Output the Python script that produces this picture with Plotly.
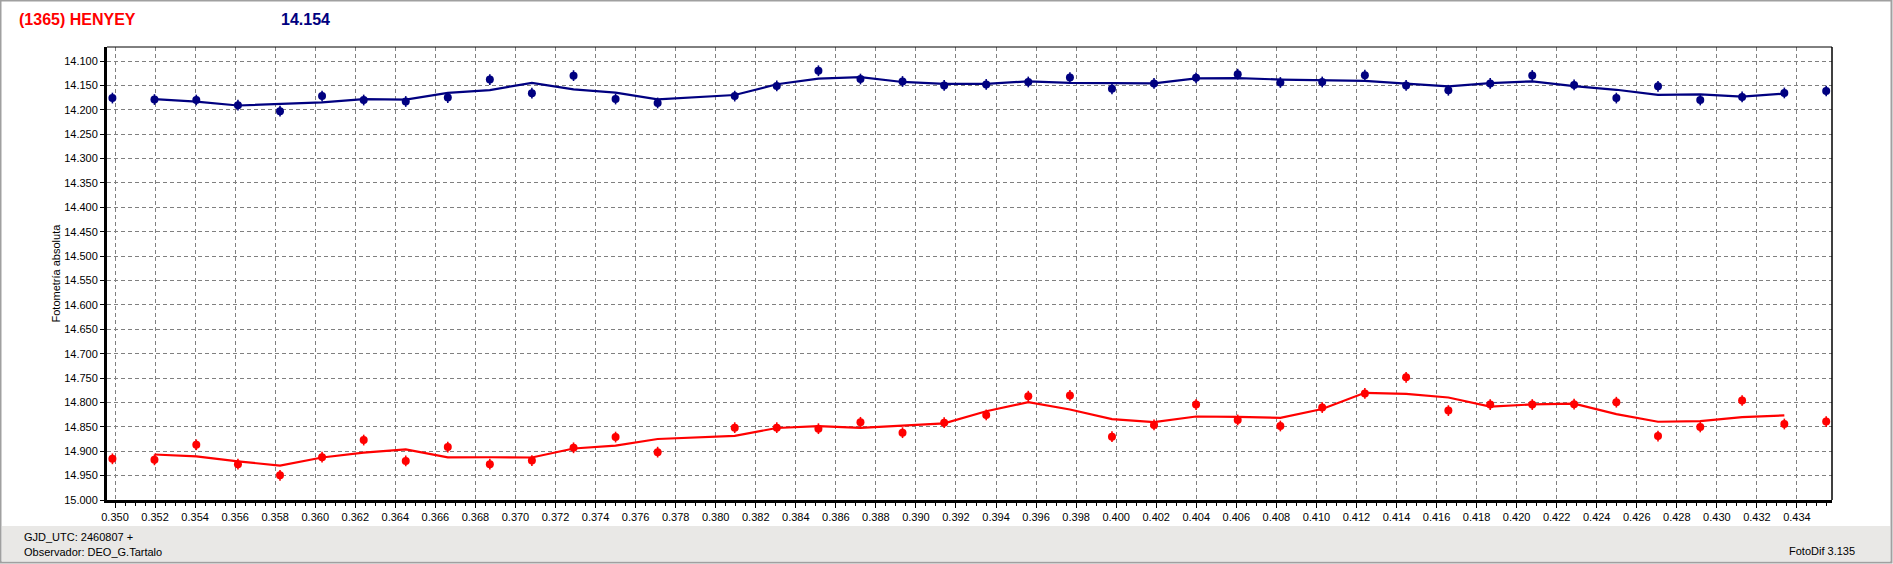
import plotly.graph_objects as go

# ---- data ----
x_jd = [0.34987, 0.35197, 0.35406, 0.35614, 0.35824, 0.36034, 0.36242, 0.36452, 0.36662, 0.36872,
        0.37082, 0.37290, 0.37500, 0.37710, 0.38095, 0.38305, 0.38513, 0.38723, 0.38933, 0.39141,
        0.39351, 0.39561, 0.39769, 0.39979, 0.40189, 0.40399, 0.40607, 0.40820, 0.41029, 0.41242,
        0.41448, 0.41659, 0.41868, 0.42078, 0.42287, 0.42498, 0.42706, 0.42917, 0.43126, 0.43337,
        0.43546]

blue_mag = [14.176, 14.179, 14.180, 14.1905, 14.203, 14.172, 14.180, 14.183, 14.175, 14.138,
            14.166, 14.130, 14.178, 14.186, 14.172, 14.151, 14.120, 14.137, 14.142, 14.150,
            14.148, 14.143, 14.134, 14.157, 14.146, 14.1345, 14.127, 14.144, 14.143, 14.129,
            14.150, 14.160, 14.146, 14.1297, 14.149, 14.176, 14.152, 14.180, 14.1736, 14.1655,
            14.1615]

red_mag = [14.9156, 14.9177, 14.8868, 14.9266, 14.9493, 14.9122, 14.8771, 14.9198, 14.8916, 14.9266,
           14.9191, 14.8930, 14.8710, 14.9019, 14.8517, 14.8517, 14.8538, 14.8407, 14.8620, 14.8414,
           14.8256, 14.7871, 14.7857, 14.8703, 14.8462, 14.8043, 14.8359, 14.8483, 14.8105, 14.7816,
           14.7486, 14.8167, 14.8043, 14.8043, 14.8036, 14.7995, 14.8689, 14.8503, 14.7960, 14.8442,
           14.8393]

# smoothed curves (drawn from 2nd to 2nd-last point)
blue_trend = [14.1783, 14.1832, 14.1912, 14.1885, 14.1850, 14.1783, 14.1793, 14.1653, 14.1597, 14.1447,
              14.1580, 14.1647, 14.1787, 14.1697, 14.1477, 14.1360, 14.1330, 14.1430, 14.1467, 14.1470,
              14.1417, 14.1447, 14.1457, 14.1458, 14.1358, 14.1352, 14.1380, 14.1387, 14.1407, 14.1463,
              14.1520, 14.1452, 14.1416, 14.1516, 14.1590, 14.1693, 14.1685, 14.1730, 14.1669]

red_trend = [14.9067, 14.9104, 14.9209, 14.9294, 14.9129, 14.9030, 14.8962, 14.9127, 14.9124, 14.9129,
             14.8944, 14.8886, 14.8749, 14.8684, 14.8524, 14.8487, 14.8522, 14.8480, 14.8430, 14.8180,
             14.7995, 14.8144, 14.8341, 14.8403, 14.8288, 14.8295, 14.8316, 14.8135, 14.7802, 14.7823,
             14.7899, 14.8084, 14.8041, 14.8025, 14.8240, 14.8396, 14.8384, 14.8302, 14.8265]

err_mag = 0.011

title_name = "(1365) HENYEY"
title_value = "14.154"
y_title = "Fotometría absoluta"
status_1 = "GJD_UTC: 2460807 +"
status_2 = "Observador: DEO_G.Tartalo"
status_3 = "FotoDif 3.135"

# ---- layout geometry (pixels) ----
W, H = 1893, 564
L, R, T, B = 107, 1832, 47, 500
PW, PH = R - L, B - T


def px(xp):
    return (xp - L) / PW


def py(yp):
    return (B - yp) / PH


NAVY = "#000080"
RED = "#FF0000"
FONT = "Liberation Sans, Arial, sans-serif"

fig = go.Figure()

for mags, trend, col in [(blue_mag, blue_trend, NAVY), (red_mag, red_trend, RED)]:
    fig.add_trace(go.Scatter(
        x=x_jd[1:-1], y=trend, mode="lines",
        line=dict(color=col, width=2.2), hoverinfo="skip", showlegend=False))
    fig.add_trace(go.Scatter(
        x=x_jd, y=mags, mode="markers",
        marker=dict(color=col, size=8, symbol="circle", line=dict(width=0)),
        error_y=dict(type="constant", value=err_mag, color=col, thickness=1.6, width=0),
        showlegend=False))

grid = dict(showgrid=True, gridcolor="#808080", gridwidth=1, griddash="4px,3px")

fig.update_xaxes(
    range=[0.3496, 0.43575], tick0=0.35, dtick=0.002, tickformat=".3f",
    showline=True, linecolor="black", linewidth=3, mirror=False,
    ticks="outside", ticklen=5, tickcolor="black", tickwidth=1,
    minor=dict(ticks="outside", ticklen=3, dtick=0.0005, tick0=0.35, tickcolor="black", showgrid=False),
    tickfont=dict(family=FONT, size=11, color="black"),
    zeroline=False, **grid)

fig.update_yaxes(
    range=[15.0, 14.0713], tick0=14.1, dtick=0.05, tickformat=".3f",
    showline=True, linecolor="black", linewidth=3, mirror=False,
    ticks="outside", ticklen=4, tickcolor="black", tickwidth=1,
    tickfont=dict(family=FONT, size=11, color="black"),
    zeroline=False, **grid)

shapes = [
    # outer window frame
    dict(type="rect", xref="paper", yref="paper", x0=px(0.5), x1=px(W - 1.5), y0=py(H - 1.5), y1=py(0.5),
         line=dict(color="#A0A0A0", width=2), fillcolor="rgba(0,0,0,0)", layer="below"),
    # status bar
    dict(type="rect", xref="paper", yref="paper", x0=px(2), x1=px(W - 3), y0=py(H - 2.5), y1=py(526),
         line=dict(width=0), fillcolor="#E9E8E6", layer="below"),
    # thin top / right plot frame
    dict(type="line", xref="paper", yref="paper", x0=0, x1=1, y0=1, y1=1, line=dict(color="black", width=1)),
    dict(type="line", xref="paper", yref="paper", x0=1, x1=1, y0=0, y1=1, line=dict(color="black", width=1.5)),
]

annotations = [
    dict(text="<b>" + title_name + "</b>", x=px(17), y=py(19.5), xref="paper", yref="paper",
         xanchor="left", yanchor="middle", showarrow=False, font=dict(family=FONT, size=16, color=RED)),
    dict(text="<b>" + title_value + "</b>", x=px(279), y=py(19.5), xref="paper", yref="paper",
         xanchor="left", yanchor="middle", showarrow=False, font=dict(family=FONT, size=16, color=NAVY)),
    dict(text=y_title, x=px(55), y=0.5, xref="paper", yref="paper", textangle=-90,
         xanchor="center", yanchor="middle", showarrow=False, font=dict(family=FONT, size=11, color="black")),
    dict(text=status_1, x=px(22), y=py(537), xref="paper", yref="paper",
         xanchor="left", yanchor="middle", showarrow=False, font=dict(family=FONT, size=11, color="black")),
    dict(text=status_2, x=px(22), y=py(552), xref="paper", yref="paper",
         xanchor="left", yanchor="middle", showarrow=False, font=dict(family=FONT, size=11, color="black")),
    dict(text=status_3, x=px(1857), y=py(551), xref="paper", yref="paper",
         xanchor="right", yanchor="middle", showarrow=False, font=dict(family=FONT, size=11, color="black")),
]

fig.update_layout(
    width=W, height=H, autosize=False,
    margin=dict(l=L, r=W - R, t=T, b=H - B, pad=0),
    paper_bgcolor="white", plot_bgcolor="white",
    shapes=shapes, annotations=annotations,
    showlegend=False, hovermode=False,
    font=dict(family=FONT, size=11, color="black"),
)

fig.write_html(
    "out.html",
    config=dict(displayModeBar=False),
    post_script="document.body.style.margin='0';document.body.style.overflow='hidden';",
)
